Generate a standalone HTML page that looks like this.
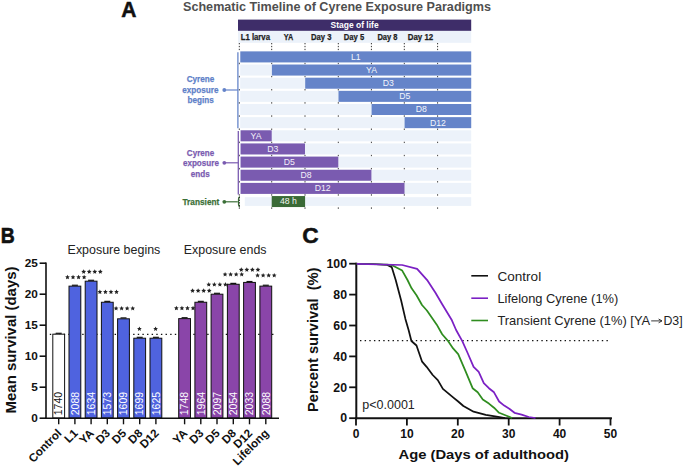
<!DOCTYPE html>
<html><head><meta charset="utf-8"><style>
html,body{margin:0;padding:0;background:#fff;width:685px;height:469px;overflow:hidden}
svg{display:block;font-family:"Liberation Sans", sans-serif}
</style></head><body>
<svg width="685" height="469" viewBox="0 0 685 469">
<rect width="685" height="469" fill="#fff"/>
<text x="121.3" y="16.5" font-size="22.5" font-weight="bold" fill="#111" text-anchor="start" textLength="15.2" lengthAdjust="spacingAndGlyphs" stroke="#111" stroke-width="0.5">A</text>
<text x="183" y="11.0" font-size="13.4" font-weight="bold" fill="#4f4f4f" text-anchor="start" textLength="308" lengthAdjust="spacingAndGlyphs" >Schematic Timeline of Cyrene Exposure Paradigms</text>
<rect x="238" y="19.6" width="233.2" height="11.3" fill="#3e2d69"/>
<text x="354.6" y="28.4" font-size="9.2" font-weight="bold" fill="#ffffff" text-anchor="middle" textLength="48" lengthAdjust="spacingAndGlyphs" >Stage of life</text>
<rect x="238" y="30.9" width="233.2" height="11.9" fill="#ecf2fa"/>
<text x="240.7" y="40.4" font-size="9.0" font-weight="bold" fill="#1e1e1e" text-anchor="start" textLength="29.3" lengthAdjust="spacingAndGlyphs" stroke="#1e1e1e" stroke-width="0.25">L1 larva</text>
<text x="283.8" y="40.4" font-size="9.0" font-weight="bold" fill="#1e1e1e" text-anchor="start" textLength="9.4" lengthAdjust="spacingAndGlyphs" stroke="#1e1e1e" stroke-width="0.25">YA</text>
<text x="311.0" y="40.4" font-size="9.0" font-weight="bold" fill="#1e1e1e" text-anchor="start" textLength="20.4" lengthAdjust="spacingAndGlyphs" stroke="#1e1e1e" stroke-width="0.25">Day 3</text>
<text x="343.8" y="40.4" font-size="9.0" font-weight="bold" fill="#1e1e1e" text-anchor="start" textLength="20.4" lengthAdjust="spacingAndGlyphs" stroke="#1e1e1e" stroke-width="0.25">Day 5</text>
<text x="377.4" y="40.4" font-size="9.0" font-weight="bold" fill="#1e1e1e" text-anchor="start" textLength="20.1" lengthAdjust="spacingAndGlyphs" stroke="#1e1e1e" stroke-width="0.25">Day 8</text>
<text x="407.7" y="40.4" font-size="9.0" font-weight="bold" fill="#1e1e1e" text-anchor="start" textLength="25.5" lengthAdjust="spacingAndGlyphs" stroke="#1e1e1e" stroke-width="0.25">Day 12</text>
<line x1="239.3" y1="43.0" x2="239.3" y2="50.6" stroke="#333" stroke-width="1" stroke-dasharray="1.3 1.6"/>
<rect x="238.80" y="62.70" width="1" height="1.5" fill="#444"/>
<rect x="238.80" y="75.85" width="1" height="1.5" fill="#444"/>
<rect x="238.80" y="89.00" width="1" height="1.5" fill="#444"/>
<rect x="238.80" y="102.15" width="1" height="1.5" fill="#444"/>
<rect x="238.80" y="115.30" width="1" height="1.5" fill="#444"/>
<rect x="238.80" y="128.45" width="1" height="1.5" fill="#444"/>
<rect x="238.80" y="141.60" width="1" height="1.5" fill="#444"/>
<rect x="238.80" y="154.75" width="1" height="1.5" fill="#444"/>
<rect x="238.80" y="167.90" width="1" height="1.5" fill="#444"/>
<rect x="238.80" y="181.05" width="1" height="1.5" fill="#444"/>
<rect x="238.80" y="194.20" width="1" height="1.5" fill="#444"/>
<rect x="238.80" y="207.35" width="1" height="1.5" fill="#444"/>
<line x1="271.7" y1="43.0" x2="271.7" y2="50.6" stroke="#333" stroke-width="1" stroke-dasharray="1.3 1.6"/>
<rect x="271.20" y="62.70" width="1" height="1.5" fill="#444"/>
<rect x="271.20" y="75.85" width="1" height="1.5" fill="#444"/>
<rect x="271.20" y="89.00" width="1" height="1.5" fill="#444"/>
<rect x="271.20" y="102.15" width="1" height="1.5" fill="#444"/>
<rect x="271.20" y="115.30" width="1" height="1.5" fill="#444"/>
<rect x="271.20" y="128.45" width="1" height="1.5" fill="#444"/>
<rect x="271.20" y="141.60" width="1" height="1.5" fill="#444"/>
<rect x="271.20" y="154.75" width="1" height="1.5" fill="#444"/>
<rect x="271.20" y="167.90" width="1" height="1.5" fill="#444"/>
<rect x="271.20" y="181.05" width="1" height="1.5" fill="#444"/>
<rect x="271.20" y="194.20" width="1" height="1.5" fill="#444"/>
<rect x="271.20" y="207.35" width="1" height="1.5" fill="#444"/>
<line x1="305.0" y1="43.0" x2="305.0" y2="50.6" stroke="#333" stroke-width="1" stroke-dasharray="1.3 1.6"/>
<rect x="304.50" y="62.70" width="1" height="1.5" fill="#444"/>
<rect x="304.50" y="75.85" width="1" height="1.5" fill="#444"/>
<rect x="304.50" y="89.00" width="1" height="1.5" fill="#444"/>
<rect x="304.50" y="102.15" width="1" height="1.5" fill="#444"/>
<rect x="304.50" y="115.30" width="1" height="1.5" fill="#444"/>
<rect x="304.50" y="128.45" width="1" height="1.5" fill="#444"/>
<rect x="304.50" y="141.60" width="1" height="1.5" fill="#444"/>
<rect x="304.50" y="154.75" width="1" height="1.5" fill="#444"/>
<rect x="304.50" y="167.90" width="1" height="1.5" fill="#444"/>
<rect x="304.50" y="181.05" width="1" height="1.5" fill="#444"/>
<rect x="304.50" y="194.20" width="1" height="1.5" fill="#444"/>
<rect x="304.50" y="207.35" width="1" height="1.5" fill="#444"/>
<line x1="338.3" y1="43.0" x2="338.3" y2="50.6" stroke="#333" stroke-width="1" stroke-dasharray="1.3 1.6"/>
<rect x="337.80" y="62.70" width="1" height="1.5" fill="#444"/>
<rect x="337.80" y="75.85" width="1" height="1.5" fill="#444"/>
<rect x="337.80" y="89.00" width="1" height="1.5" fill="#444"/>
<rect x="337.80" y="102.15" width="1" height="1.5" fill="#444"/>
<rect x="337.80" y="115.30" width="1" height="1.5" fill="#444"/>
<rect x="337.80" y="128.45" width="1" height="1.5" fill="#444"/>
<rect x="337.80" y="141.60" width="1" height="1.5" fill="#444"/>
<rect x="337.80" y="154.75" width="1" height="1.5" fill="#444"/>
<rect x="337.80" y="167.90" width="1" height="1.5" fill="#444"/>
<rect x="337.80" y="181.05" width="1" height="1.5" fill="#444"/>
<rect x="337.80" y="194.20" width="1" height="1.5" fill="#444"/>
<rect x="337.80" y="207.35" width="1" height="1.5" fill="#444"/>
<line x1="371.4" y1="43.0" x2="371.4" y2="50.6" stroke="#333" stroke-width="1" stroke-dasharray="1.3 1.6"/>
<rect x="370.90" y="62.70" width="1" height="1.5" fill="#444"/>
<rect x="370.90" y="75.85" width="1" height="1.5" fill="#444"/>
<rect x="370.90" y="89.00" width="1" height="1.5" fill="#444"/>
<rect x="370.90" y="102.15" width="1" height="1.5" fill="#444"/>
<rect x="370.90" y="115.30" width="1" height="1.5" fill="#444"/>
<rect x="370.90" y="128.45" width="1" height="1.5" fill="#444"/>
<rect x="370.90" y="141.60" width="1" height="1.5" fill="#444"/>
<rect x="370.90" y="154.75" width="1" height="1.5" fill="#444"/>
<rect x="370.90" y="167.90" width="1" height="1.5" fill="#444"/>
<rect x="370.90" y="181.05" width="1" height="1.5" fill="#444"/>
<rect x="370.90" y="194.20" width="1" height="1.5" fill="#444"/>
<rect x="370.90" y="207.35" width="1" height="1.5" fill="#444"/>
<line x1="404.3" y1="43.0" x2="404.3" y2="50.6" stroke="#333" stroke-width="1" stroke-dasharray="1.3 1.6"/>
<rect x="403.80" y="62.70" width="1" height="1.5" fill="#444"/>
<rect x="403.80" y="75.85" width="1" height="1.5" fill="#444"/>
<rect x="403.80" y="89.00" width="1" height="1.5" fill="#444"/>
<rect x="403.80" y="102.15" width="1" height="1.5" fill="#444"/>
<rect x="403.80" y="115.30" width="1" height="1.5" fill="#444"/>
<rect x="403.80" y="128.45" width="1" height="1.5" fill="#444"/>
<rect x="403.80" y="141.60" width="1" height="1.5" fill="#444"/>
<rect x="403.80" y="154.75" width="1" height="1.5" fill="#444"/>
<rect x="403.80" y="167.90" width="1" height="1.5" fill="#444"/>
<rect x="403.80" y="181.05" width="1" height="1.5" fill="#444"/>
<rect x="403.80" y="194.20" width="1" height="1.5" fill="#444"/>
<rect x="403.80" y="207.35" width="1" height="1.5" fill="#444"/>
<line x1="437.6" y1="43.0" x2="437.6" y2="50.6" stroke="#333" stroke-width="1" stroke-dasharray="1.3 1.6"/>
<rect x="437.10" y="62.70" width="1" height="1.5" fill="#444"/>
<rect x="437.10" y="75.85" width="1" height="1.5" fill="#444"/>
<rect x="437.10" y="89.00" width="1" height="1.5" fill="#444"/>
<rect x="437.10" y="102.15" width="1" height="1.5" fill="#444"/>
<rect x="437.10" y="115.30" width="1" height="1.5" fill="#444"/>
<rect x="437.10" y="128.45" width="1" height="1.5" fill="#444"/>
<rect x="437.10" y="141.60" width="1" height="1.5" fill="#444"/>
<rect x="437.10" y="154.75" width="1" height="1.5" fill="#444"/>
<rect x="437.10" y="167.90" width="1" height="1.5" fill="#444"/>
<rect x="437.10" y="181.05" width="1" height="1.5" fill="#444"/>
<rect x="437.10" y="194.20" width="1" height="1.5" fill="#444"/>
<rect x="437.10" y="207.35" width="1" height="1.5" fill="#444"/>
<rect x="240.2" y="51.40" width="231.00" height="11.0" fill="#ecf2fa"/>
<rect x="240.2" y="64.55" width="231.00" height="11.0" fill="#ecf2fa"/>
<rect x="240.2" y="77.70" width="231.00" height="11.0" fill="#ecf2fa"/>
<rect x="240.2" y="90.85" width="231.00" height="11.0" fill="#ecf2fa"/>
<rect x="240.2" y="104.00" width="231.00" height="11.0" fill="#ecf2fa"/>
<rect x="240.2" y="117.15" width="231.00" height="11.0" fill="#ecf2fa"/>
<rect x="240.2" y="130.30" width="231.00" height="11.0" fill="#ecf2fa"/>
<rect x="240.2" y="143.45" width="231.00" height="11.0" fill="#ecf2fa"/>
<rect x="240.2" y="156.60" width="231.00" height="11.0" fill="#ecf2fa"/>
<rect x="240.2" y="169.75" width="231.00" height="11.0" fill="#ecf2fa"/>
<rect x="240.2" y="182.90" width="231.00" height="11.0" fill="#ecf2fa"/>
<rect x="244.8" y="197.2" width="226.40" height="8.7" fill="#ecf2fa"/>
<rect x="240.3" y="51.40" width="230.90" height="11.0" fill="#6584c9"/>
<text x="355.8" y="59.8" font-size="8.7" font-weight="normal" fill="#f4f6fc" text-anchor="middle" >L1</text>
<rect x="271.9" y="64.55" width="199.30" height="11.0" fill="#6584c9"/>
<text x="371.5" y="72.95" font-size="8.7" font-weight="normal" fill="#f4f6fc" text-anchor="middle" >YA</text>
<rect x="305.2" y="77.70" width="166.00" height="11.0" fill="#6584c9"/>
<text x="388.2" y="86.1" font-size="8.7" font-weight="normal" fill="#f4f6fc" text-anchor="middle" >D3</text>
<rect x="338.5" y="90.85" width="132.70" height="11.0" fill="#6584c9"/>
<text x="404.9" y="99.25" font-size="8.7" font-weight="normal" fill="#f4f6fc" text-anchor="middle" >D5</text>
<rect x="371.6" y="104.00" width="99.60" height="11.0" fill="#6584c9"/>
<text x="421.4" y="112.4" font-size="8.7" font-weight="normal" fill="#f4f6fc" text-anchor="middle" >D8</text>
<rect x="404.6" y="117.15" width="66.60" height="11.0" fill="#6584c9"/>
<text x="437.9" y="125.55" font-size="8.7" font-weight="normal" fill="#f4f6fc" text-anchor="middle" >D12</text>
<rect x="240.6" y="130.30" width="31.10" height="11.0" fill="#7a5bb0"/>
<text x="256.1" y="138.7" font-size="8.7" font-weight="normal" fill="#f4f0fa" text-anchor="middle" >YA</text>
<rect x="240.6" y="143.45" width="64.40" height="11.0" fill="#7a5bb0"/>
<text x="272.8" y="151.85" font-size="8.7" font-weight="normal" fill="#f4f0fa" text-anchor="middle" >D3</text>
<rect x="240.6" y="156.60" width="97.70" height="11.0" fill="#7a5bb0"/>
<text x="289.4" y="165.0" font-size="8.7" font-weight="normal" fill="#f4f0fa" text-anchor="middle" >D5</text>
<rect x="240.6" y="169.75" width="130.80" height="11.0" fill="#7a5bb0"/>
<text x="306.0" y="178.15" font-size="8.7" font-weight="normal" fill="#f4f0fa" text-anchor="middle" >D8</text>
<rect x="240.6" y="182.90" width="163.90" height="11.0" fill="#7a5bb0"/>
<text x="322.6" y="191.3" font-size="8.7" font-weight="normal" fill="#f4f0fa" text-anchor="middle" >D12</text>
<rect x="271.7" y="196.05" width="33.4" height="11.0" fill="#3a6a36"/>
<text x="288.4" y="204.45" font-size="8.7" font-weight="normal" fill="#f2f6f2" text-anchor="middle" >48 h</text>
<line x1="237.9" y1="52.3" x2="237.9" y2="128.2" stroke="#6584c9" stroke-width="1.3"/>
<line x1="224.3" y1="90" x2="237.9" y2="90" stroke="#6584c9" stroke-width="1.2"/>
<circle cx="224.3" cy="90" r="1.9" fill="#6584c9"/>
<text x="200.5" y="82.4" font-size="9.6" font-weight="bold" fill="#5e7fc8" text-anchor="middle" textLength="27.7" lengthAdjust="spacingAndGlyphs" stroke="#5e7fc8" stroke-width="0.25">Cyrene</text>
<text x="200.4" y="92.7" font-size="9.6" font-weight="bold" fill="#5e7fc8" text-anchor="middle" textLength="36.2" lengthAdjust="spacingAndGlyphs" stroke="#5e7fc8" stroke-width="0.25">exposure</text>
<text x="200.6" y="102.6" font-size="9.6" font-weight="bold" fill="#5e7fc8" text-anchor="middle" textLength="26.3" lengthAdjust="spacingAndGlyphs" stroke="#5e7fc8" stroke-width="0.25">begins</text>
<line x1="238.3" y1="131" x2="238.3" y2="194.5" stroke="#7a5bb0" stroke-width="1.3"/>
<line x1="224.3" y1="162.8" x2="238.3" y2="162.8" stroke="#7a5bb0" stroke-width="1.2"/>
<circle cx="224.3" cy="162.8" r="1.9" fill="#7a5bb0"/>
<text x="200.5" y="156.2" font-size="9.6" font-weight="bold" fill="#7a5bb0" text-anchor="middle" textLength="27.3" lengthAdjust="spacingAndGlyphs" stroke="#7a5bb0" stroke-width="0.25">Cyrene</text>
<text x="200.9" y="166.0" font-size="9.6" font-weight="bold" fill="#7a5bb0" text-anchor="middle" textLength="36.0" lengthAdjust="spacingAndGlyphs" stroke="#7a5bb0" stroke-width="0.25">exposure</text>
<text x="200.3" y="176.8" font-size="9.6" font-weight="bold" fill="#7a5bb0" text-anchor="middle" textLength="19.0" lengthAdjust="spacingAndGlyphs" stroke="#7a5bb0" stroke-width="0.25">ends</text>
<text x="182.5" y="205.4" font-size="9.8" font-weight="bold" fill="#3b6f37" text-anchor="start" textLength="36.8" lengthAdjust="spacingAndGlyphs" stroke="#3b6f37" stroke-width="0.25">Transient</text>
<line x1="224.3" y1="201.8" x2="237.8" y2="201.8" stroke="#3b6f37" stroke-width="1.2"/>
<circle cx="224.3" cy="201.8" r="1.9" fill="#3b6f37"/>
<path d="M239.8 196.4 Q238.5 197.2 238.5 199 L238.5 204.4 Q238.5 206.2 239.8 206.9" fill="none" stroke="#3b6f37" stroke-width="1.2"/>
<rect x="238.9" y="197.0" width="1" height="1.3" fill="#222"/>
<rect x="238.9" y="199.6" width="1" height="1.3" fill="#222"/>
<rect x="238.9" y="202.2" width="1" height="1.3" fill="#222"/>
<rect x="238.9" y="204.8" width="1" height="1.3" fill="#222"/>
<text x="0.8" y="242.9" font-size="22.2" font-weight="bold" fill="#111" text-anchor="start" textLength="14.0" lengthAdjust="spacingAndGlyphs" stroke="#111" stroke-width="0.6">B</text>
<text x="67.6" y="253.6" font-size="12.4" font-weight="normal" fill="#222" text-anchor="start" textLength="92.7" lengthAdjust="spacingAndGlyphs" >Exposure begins</text>
<text x="183.8" y="253.9" font-size="12.4" font-weight="normal" fill="#222" text-anchor="start" textLength="82.7" lengthAdjust="spacingAndGlyphs" >Exposure ends</text>
<text transform="translate(15.7,413.4) rotate(-90)" font-size="14.6" font-weight="bold" fill="#111" textLength="146.9" lengthAdjust="spacingAndGlyphs">Mean survival (days)</text>
<line x1="39.6" y1="418.20" x2="46.0" y2="418.20" stroke="#111" stroke-width="1.6"/>
<text x="37.9" y="422.3" font-size="11.8" font-weight="bold" fill="#111" text-anchor="end" >0</text>
<line x1="39.6" y1="387.20" x2="46.0" y2="387.20" stroke="#111" stroke-width="1.6"/>
<text x="37.9" y="391.3" font-size="11.8" font-weight="bold" fill="#111" text-anchor="end" >5</text>
<line x1="39.6" y1="356.20" x2="46.0" y2="356.20" stroke="#111" stroke-width="1.6"/>
<text x="37.9" y="360.3" font-size="11.8" font-weight="bold" fill="#111" text-anchor="end" >10</text>
<line x1="39.6" y1="325.20" x2="46.0" y2="325.20" stroke="#111" stroke-width="1.6"/>
<text x="37.9" y="329.3" font-size="11.8" font-weight="bold" fill="#111" text-anchor="end" >15</text>
<line x1="39.6" y1="294.20" x2="46.0" y2="294.20" stroke="#111" stroke-width="1.6"/>
<text x="37.9" y="298.3" font-size="11.8" font-weight="bold" fill="#111" text-anchor="end" >20</text>
<line x1="39.6" y1="263.20" x2="46.0" y2="263.20" stroke="#111" stroke-width="1.6"/>
<text x="37.9" y="267.3" font-size="11.8" font-weight="bold" fill="#111" text-anchor="end" >25</text>
<line x1="46.0" y1="262.40" x2="46.0" y2="418.9" stroke="#111" stroke-width="1.6"/>
<line x1="49.8" y1="334.4" x2="276" y2="334.4" stroke="#111" stroke-width="1.3" stroke-dasharray="1.4 3.23"/>
<rect x="52.8" y="334.19" width="11.8" height="83.81" fill="#ffffff" stroke="#111" stroke-width="1"/>
<line x1="55.70" y1="333.29" x2="61.70" y2="333.29" stroke="#111" stroke-width="1.2"/>
<text transform="translate(62.40,415.2) rotate(-90)" font-size="10.3" fill="#111" textLength="23.3" lengthAdjust="spacingAndGlyphs">1740</text>
<line x1="58.70" y1="418" x2="58.70" y2="424.3" stroke="#111" stroke-width="1.4"/>
<text transform="translate(62.30,434.0) rotate(-45)" font-size="11.6" font-weight="bold" fill="#111" text-anchor="end">Control</text>
<rect x="69.0" y="286.14" width="11.8" height="131.86" fill="#4f63df" stroke="#111" stroke-width="1"/>
<line x1="71.90" y1="285.24" x2="77.90" y2="285.24" stroke="#111" stroke-width="1.2"/>
<text transform="translate(78.60,415.2) rotate(-90)" font-size="10.3" fill="#ffffff" textLength="23.3" lengthAdjust="spacingAndGlyphs">2088</text>
<line x1="74.90" y1="418" x2="74.90" y2="424.3" stroke="#111" stroke-width="1.4"/>
<text transform="translate(78.50,434.0) rotate(-45)" font-size="11.6" font-weight="bold" fill="#111" text-anchor="end">L1</text>
<polygon points="67.48,274.70 68.17,276.25 69.85,276.43 68.59,277.56 68.94,279.22 67.48,278.38 66.01,279.22 66.36,277.56 65.10,276.43 66.78,276.25" fill="#222"/>
<polygon points="73.03,274.70 73.72,276.25 75.40,276.43 74.14,277.56 74.49,279.22 73.03,278.38 71.56,279.22 71.91,277.56 70.65,276.43 72.33,276.25" fill="#222"/>
<polygon points="78.58,274.70 79.27,276.25 80.95,276.43 79.69,277.56 80.04,279.22 78.58,278.38 77.11,279.22 77.46,277.56 76.20,276.43 77.88,276.25" fill="#222"/>
<polygon points="84.12,274.70 84.82,276.25 86.50,276.43 85.24,277.56 85.59,279.22 84.12,278.38 82.66,279.22 83.01,277.56 81.75,276.43 83.43,276.25" fill="#222"/>
<rect x="85.2" y="281.18" width="11.8" height="136.82" fill="#4f63df" stroke="#111" stroke-width="1"/>
<line x1="88.10" y1="280.28" x2="94.10" y2="280.28" stroke="#111" stroke-width="1.2"/>
<text transform="translate(94.80,415.2) rotate(-90)" font-size="10.3" fill="#ffffff" textLength="23.3" lengthAdjust="spacingAndGlyphs">1634</text>
<line x1="91.10" y1="418" x2="91.10" y2="424.3" stroke="#111" stroke-width="1.4"/>
<text transform="translate(94.70,434.0) rotate(-45)" font-size="11.6" font-weight="bold" fill="#111" text-anchor="end">YA</text>
<polygon points="83.68,269.30 84.37,270.85 86.05,271.03 84.79,272.16 85.14,273.82 83.68,272.98 82.21,273.82 82.56,272.16 81.30,271.03 82.98,270.85" fill="#222"/>
<polygon points="89.23,269.30 89.92,270.85 91.60,271.03 90.34,272.16 90.69,273.82 89.23,272.98 87.76,273.82 88.11,272.16 86.85,271.03 88.53,270.85" fill="#222"/>
<polygon points="94.78,269.30 95.47,270.85 97.15,271.03 95.89,272.16 96.24,273.82 94.78,272.98 93.31,273.82 93.66,272.16 92.40,271.03 94.08,270.85" fill="#222"/>
<polygon points="100.33,269.30 101.02,270.85 102.70,271.03 101.44,272.16 101.79,273.82 100.33,272.98 98.86,273.82 99.21,272.16 97.95,271.03 99.63,270.85" fill="#222"/>
<rect x="101.4" y="302.26" width="11.8" height="115.74" fill="#4f63df" stroke="#111" stroke-width="1"/>
<line x1="104.30" y1="301.36" x2="110.30" y2="301.36" stroke="#111" stroke-width="1.2"/>
<text transform="translate(111.00,415.2) rotate(-90)" font-size="10.3" fill="#ffffff" textLength="23.3" lengthAdjust="spacingAndGlyphs">1573</text>
<line x1="107.30" y1="418" x2="107.30" y2="424.3" stroke="#111" stroke-width="1.4"/>
<text transform="translate(110.90,434.0) rotate(-45)" font-size="11.6" font-weight="bold" fill="#111" text-anchor="end">D3</text>
<polygon points="99.88,289.50 100.57,291.05 102.25,291.23 100.99,292.36 101.34,294.02 99.88,293.18 98.41,294.02 98.76,292.36 97.50,291.23 99.18,291.05" fill="#222"/>
<polygon points="105.43,289.50 106.12,291.05 107.80,291.23 106.54,292.36 106.89,294.02 105.43,293.18 103.96,294.02 104.31,292.36 103.05,291.23 104.73,291.05" fill="#222"/>
<polygon points="110.98,289.50 111.67,291.05 113.35,291.23 112.09,292.36 112.44,294.02 110.98,293.18 109.51,294.02 109.86,292.36 108.60,291.23 110.28,291.05" fill="#222"/>
<polygon points="116.53,289.50 117.22,291.05 118.90,291.23 117.64,292.36 117.99,294.02 116.53,293.18 115.06,294.02 115.41,292.36 114.15,291.23 115.83,291.05" fill="#222"/>
<rect x="117.6" y="318.81" width="11.8" height="99.19" fill="#4f63df" stroke="#111" stroke-width="1"/>
<line x1="120.50" y1="317.91" x2="126.50" y2="317.91" stroke="#111" stroke-width="1.2"/>
<text transform="translate(127.20,415.2) rotate(-90)" font-size="10.3" fill="#ffffff" textLength="23.3" lengthAdjust="spacingAndGlyphs">1609</text>
<line x1="123.50" y1="418" x2="123.50" y2="424.3" stroke="#111" stroke-width="1.4"/>
<text transform="translate(127.10,434.0) rotate(-45)" font-size="11.6" font-weight="bold" fill="#111" text-anchor="end">D5</text>
<polygon points="116.08,305.90 116.77,307.45 118.45,307.63 117.19,308.76 117.54,310.42 116.08,309.57 114.61,310.42 114.96,308.76 113.70,307.63 115.38,307.45" fill="#222"/>
<polygon points="121.62,305.90 122.32,307.45 124.00,307.63 122.74,308.76 123.09,310.42 121.62,309.57 120.16,310.42 120.51,308.76 119.25,307.63 120.93,307.45" fill="#222"/>
<polygon points="127.17,305.90 127.87,307.45 129.55,307.63 128.29,308.76 128.64,310.42 127.17,309.57 125.71,310.42 126.06,308.76 124.80,307.63 126.48,307.45" fill="#222"/>
<polygon points="132.72,305.90 133.42,307.45 135.10,307.63 133.84,308.76 134.19,310.42 132.72,309.57 131.26,310.42 131.61,308.76 130.35,307.63 132.03,307.45" fill="#222"/>
<rect x="133.8" y="338.22" width="11.8" height="79.78" fill="#4f63df" stroke="#111" stroke-width="1"/>
<line x1="136.70" y1="337.32" x2="142.70" y2="337.32" stroke="#111" stroke-width="1.2"/>
<text transform="translate(143.40,415.2) rotate(-90)" font-size="10.3" fill="#ffffff" textLength="23.3" lengthAdjust="spacingAndGlyphs">1699</text>
<line x1="139.70" y1="418" x2="139.70" y2="424.3" stroke="#111" stroke-width="1.4"/>
<text transform="translate(143.30,434.0) rotate(-45)" font-size="11.6" font-weight="bold" fill="#111" text-anchor="end">D8</text>
<polygon points="139.40,326.40 140.09,327.95 141.78,328.13 140.52,329.26 140.87,330.92 139.40,330.07 137.93,330.92 138.28,329.26 137.02,328.13 138.71,327.95" fill="#222"/>
<rect x="150.0" y="338.22" width="11.8" height="79.78" fill="#4f63df" stroke="#111" stroke-width="1"/>
<line x1="152.90" y1="337.32" x2="158.90" y2="337.32" stroke="#111" stroke-width="1.2"/>
<text transform="translate(159.60,415.2) rotate(-90)" font-size="10.3" fill="#ffffff" textLength="23.3" lengthAdjust="spacingAndGlyphs">1625</text>
<line x1="155.90" y1="418" x2="155.90" y2="424.3" stroke="#111" stroke-width="1.4"/>
<text transform="translate(159.50,434.0) rotate(-45)" font-size="11.6" font-weight="bold" fill="#111" text-anchor="end">D12</text>
<polygon points="155.60,326.40 156.29,327.95 157.98,328.13 156.72,329.26 157.07,330.92 155.60,330.07 154.13,330.92 154.48,329.26 153.22,328.13 154.91,327.95" fill="#222"/>
<rect x="178.7" y="318.63" width="11.8" height="99.37" fill="#8a45a9" stroke="#111" stroke-width="1"/>
<line x1="181.60" y1="317.73" x2="187.60" y2="317.73" stroke="#111" stroke-width="1.2"/>
<text transform="translate(188.30,415.2) rotate(-90)" font-size="10.3" fill="#ffffff" textLength="23.3" lengthAdjust="spacingAndGlyphs">1748</text>
<line x1="184.60" y1="418" x2="184.60" y2="424.3" stroke="#111" stroke-width="1.4"/>
<text transform="translate(188.20,434.0) rotate(-45)" font-size="11.6" font-weight="bold" fill="#111" text-anchor="end">YA</text>
<polygon points="176.38,305.70 177.07,307.25 178.75,307.43 177.49,308.56 177.84,310.22 176.38,309.38 174.91,310.22 175.26,308.56 174.00,307.43 175.68,307.25" fill="#222"/>
<polygon points="181.93,305.70 182.62,307.25 184.30,307.43 183.04,308.56 183.39,310.22 181.93,309.38 180.46,310.22 180.81,308.56 179.55,307.43 181.23,307.25" fill="#222"/>
<polygon points="187.47,305.70 188.17,307.25 189.85,307.43 188.59,308.56 188.94,310.22 187.47,309.38 186.01,310.22 186.36,308.56 185.10,307.43 186.78,307.25" fill="#222"/>
<polygon points="193.03,305.70 193.72,307.25 195.40,307.43 194.14,308.56 194.49,310.22 193.03,309.38 191.56,310.22 191.91,308.56 190.65,307.43 192.33,307.25" fill="#222"/>
<rect x="194.9" y="302.26" width="11.8" height="115.74" fill="#8a45a9" stroke="#111" stroke-width="1"/>
<line x1="197.80" y1="301.36" x2="203.80" y2="301.36" stroke="#111" stroke-width="1.2"/>
<text transform="translate(204.50,415.2) rotate(-90)" font-size="10.3" fill="#ffffff" textLength="23.3" lengthAdjust="spacingAndGlyphs">1964</text>
<line x1="200.80" y1="418" x2="200.80" y2="424.3" stroke="#111" stroke-width="1.4"/>
<text transform="translate(204.40,434.0) rotate(-45)" font-size="11.6" font-weight="bold" fill="#111" text-anchor="end">D3</text>
<polygon points="192.58,288.30 193.27,289.85 194.95,290.03 193.69,291.16 194.04,292.82 192.58,291.98 191.11,292.82 191.46,291.16 190.20,290.03 191.88,289.85" fill="#222"/>
<polygon points="198.13,288.30 198.82,289.85 200.50,290.03 199.24,291.16 199.59,292.82 198.13,291.98 196.66,292.82 197.01,291.16 195.75,290.03 197.43,289.85" fill="#222"/>
<polygon points="203.68,288.30 204.37,289.85 206.05,290.03 204.79,291.16 205.14,292.82 203.68,291.98 202.21,292.82 202.56,291.16 201.30,290.03 202.98,289.85" fill="#222"/>
<polygon points="209.23,288.30 209.92,289.85 211.60,290.03 210.34,291.16 210.69,292.82 209.23,291.98 207.76,292.82 208.11,291.16 206.85,290.03 208.53,289.85" fill="#222"/>
<rect x="211.1" y="294.20" width="11.8" height="123.80" fill="#8a45a9" stroke="#111" stroke-width="1"/>
<line x1="214.00" y1="293.30" x2="220.00" y2="293.30" stroke="#111" stroke-width="1.2"/>
<text transform="translate(220.70,415.2) rotate(-90)" font-size="10.3" fill="#ffffff" textLength="23.3" lengthAdjust="spacingAndGlyphs">2097</text>
<line x1="217.00" y1="418" x2="217.00" y2="424.3" stroke="#111" stroke-width="1.4"/>
<text transform="translate(220.60,434.0) rotate(-45)" font-size="11.6" font-weight="bold" fill="#111" text-anchor="end">D5</text>
<polygon points="208.78,282.10 209.47,283.65 211.15,283.83 209.89,284.96 210.24,286.62 208.78,285.78 207.31,286.62 207.66,284.96 206.40,283.83 208.08,283.65" fill="#222"/>
<polygon points="214.33,282.10 215.02,283.65 216.70,283.83 215.44,284.96 215.79,286.62 214.33,285.78 212.86,286.62 213.21,284.96 211.95,283.83 213.63,283.65" fill="#222"/>
<polygon points="219.88,282.10 220.57,283.65 222.25,283.83 220.99,284.96 221.34,286.62 219.88,285.78 218.41,286.62 218.76,284.96 217.50,283.83 219.18,283.65" fill="#222"/>
<polygon points="225.43,282.10 226.12,283.65 227.80,283.83 226.54,284.96 226.89,286.62 225.43,285.78 223.96,286.62 224.31,284.96 223.05,283.83 224.73,283.65" fill="#222"/>
<rect x="227.4" y="284.28" width="11.8" height="133.72" fill="#8a45a9" stroke="#111" stroke-width="1"/>
<line x1="230.30" y1="283.38" x2="236.30" y2="283.38" stroke="#111" stroke-width="1.2"/>
<text transform="translate(237.00,415.2) rotate(-90)" font-size="10.3" fill="#ffffff" textLength="23.3" lengthAdjust="spacingAndGlyphs">2054</text>
<line x1="233.30" y1="418" x2="233.30" y2="424.3" stroke="#111" stroke-width="1.4"/>
<text transform="translate(236.90,434.0) rotate(-45)" font-size="11.6" font-weight="bold" fill="#111" text-anchor="end">D8</text>
<polygon points="225.08,271.90 225.77,273.45 227.45,273.63 226.19,274.76 226.54,276.42 225.08,275.57 223.61,276.42 223.96,274.76 222.70,273.63 224.38,273.45" fill="#222"/>
<polygon points="230.63,271.90 231.32,273.45 233.00,273.63 231.74,274.76 232.09,276.42 230.63,275.57 229.16,276.42 229.51,274.76 228.25,273.63 229.93,273.45" fill="#222"/>
<polygon points="236.18,271.90 236.87,273.45 238.55,273.63 237.29,274.76 237.64,276.42 236.18,275.57 234.71,276.42 235.06,274.76 233.80,273.63 235.48,273.45" fill="#222"/>
<polygon points="241.73,271.90 242.42,273.45 244.10,273.63 242.84,274.76 243.19,276.42 241.73,275.57 240.26,276.42 240.61,274.76 239.35,273.63 241.03,273.45" fill="#222"/>
<rect x="243.6" y="282.42" width="11.8" height="135.58" fill="#8a45a9" stroke="#111" stroke-width="1"/>
<line x1="246.50" y1="281.52" x2="252.50" y2="281.52" stroke="#111" stroke-width="1.2"/>
<text transform="translate(253.20,415.2) rotate(-90)" font-size="10.3" fill="#ffffff" textLength="23.3" lengthAdjust="spacingAndGlyphs">2033</text>
<line x1="249.50" y1="418" x2="249.50" y2="424.3" stroke="#111" stroke-width="1.4"/>
<text transform="translate(253.10,434.0) rotate(-45)" font-size="11.6" font-weight="bold" fill="#111" text-anchor="end">D12</text>
<polygon points="241.28,267.30 241.97,268.85 243.65,269.03 242.39,270.16 242.74,271.82 241.28,270.98 239.81,271.82 240.16,270.16 238.90,269.03 240.58,268.85" fill="#222"/>
<polygon points="246.83,267.30 247.52,268.85 249.20,269.03 247.94,270.16 248.29,271.82 246.83,270.98 245.36,271.82 245.71,270.16 244.45,269.03 246.13,268.85" fill="#222"/>
<polygon points="252.38,267.30 253.07,268.85 254.75,269.03 253.49,270.16 253.84,271.82 252.38,270.98 250.91,271.82 251.26,270.16 250.00,269.03 251.68,268.85" fill="#222"/>
<polygon points="257.93,267.30 258.62,268.85 260.30,269.03 259.04,270.16 259.39,271.82 257.93,270.98 256.46,271.82 256.81,270.16 255.55,269.03 257.23,268.85" fill="#222"/>
<rect x="259.9" y="286.14" width="11.8" height="131.86" fill="#8a45a9" stroke="#111" stroke-width="1"/>
<line x1="262.80" y1="285.24" x2="268.80" y2="285.24" stroke="#111" stroke-width="1.2"/>
<text transform="translate(269.50,415.2) rotate(-90)" font-size="10.3" fill="#ffffff" textLength="23.3" lengthAdjust="spacingAndGlyphs">2088</text>
<line x1="265.80" y1="418" x2="265.80" y2="424.3" stroke="#111" stroke-width="1.4"/>
<text transform="translate(269.40,434.0) rotate(-45)" font-size="11.6" font-weight="bold" fill="#111" text-anchor="end">Lifelong</text>
<polygon points="257.57,272.90 258.27,274.45 259.95,274.63 258.69,275.76 259.04,277.42 257.57,276.57 256.11,277.42 256.46,275.76 255.20,274.63 256.88,274.45" fill="#222"/>
<polygon points="263.12,272.90 263.82,274.45 265.50,274.63 264.24,275.76 264.59,277.42 263.12,276.57 261.66,277.42 262.01,275.76 260.75,274.63 262.43,274.45" fill="#222"/>
<polygon points="268.68,272.90 269.37,274.45 271.05,274.63 269.79,275.76 270.14,277.42 268.68,276.57 267.21,277.42 267.56,275.76 266.30,274.63 267.98,274.45" fill="#222"/>
<polygon points="274.22,272.90 274.92,274.45 276.60,274.63 275.34,275.76 275.69,277.42 274.22,276.57 272.76,277.42 273.11,275.76 271.85,274.63 273.53,274.45" fill="#222"/>
<line x1="45.2" y1="418.2" x2="279" y2="418.2" stroke="#111" stroke-width="1.6"/>
<text x="302.3" y="243.0" font-size="22.5" font-weight="bold" fill="#111" text-anchor="start" textLength="16.4" lengthAdjust="spacingAndGlyphs" stroke="#111" stroke-width="0.5">C</text>
<text transform="translate(317.6,412.1) rotate(-90)" font-size="14.6" font-weight="bold" fill="#111" textLength="144.6" lengthAdjust="spacingAndGlyphs" xml:space="preserve">Percent survival  (%)</text>
<line x1="349.2" y1="418.20" x2="356.5" y2="418.20" stroke="#111" stroke-width="1.8"/>
<text x="347.0" y="422.4" font-size="12.3" font-weight="bold" fill="#111" text-anchor="end" >0</text>
<line x1="349.2" y1="387.30" x2="356.5" y2="387.30" stroke="#111" stroke-width="1.8"/>
<text x="347.0" y="391.5" font-size="12.3" font-weight="bold" fill="#111" text-anchor="end" >20</text>
<line x1="349.2" y1="356.40" x2="356.5" y2="356.40" stroke="#111" stroke-width="1.8"/>
<text x="347.0" y="360.6" font-size="12.3" font-weight="bold" fill="#111" text-anchor="end" >40</text>
<line x1="349.2" y1="325.50" x2="356.5" y2="325.50" stroke="#111" stroke-width="1.8"/>
<text x="347.0" y="329.7" font-size="12.3" font-weight="bold" fill="#111" text-anchor="end" >60</text>
<line x1="349.2" y1="294.60" x2="356.5" y2="294.60" stroke="#111" stroke-width="1.8"/>
<text x="347.0" y="298.8" font-size="12.3" font-weight="bold" fill="#111" text-anchor="end" >80</text>
<line x1="349.2" y1="263.70" x2="356.5" y2="263.70" stroke="#111" stroke-width="1.8"/>
<text x="347.0" y="267.9" font-size="12.3" font-weight="bold" fill="#111" text-anchor="end" >100</text>
<line x1="356.00" y1="418" x2="356.00" y2="425.5" stroke="#111" stroke-width="1.8"/>
<text x="356.0" y="438.4" font-size="12.0" font-weight="bold" fill="#111" text-anchor="middle" >0</text>
<line x1="406.90" y1="418" x2="406.90" y2="425.5" stroke="#111" stroke-width="1.8"/>
<text x="406.9" y="438.4" font-size="12.0" font-weight="bold" fill="#111" text-anchor="middle" >10</text>
<line x1="457.80" y1="418" x2="457.80" y2="425.5" stroke="#111" stroke-width="1.8"/>
<text x="457.8" y="438.4" font-size="12.0" font-weight="bold" fill="#111" text-anchor="middle" >20</text>
<line x1="508.70" y1="418" x2="508.70" y2="425.5" stroke="#111" stroke-width="1.8"/>
<text x="508.7" y="438.4" font-size="12.0" font-weight="bold" fill="#111" text-anchor="middle" >30</text>
<line x1="559.60" y1="418" x2="559.60" y2="425.5" stroke="#111" stroke-width="1.8"/>
<text x="559.6" y="438.4" font-size="12.0" font-weight="bold" fill="#111" text-anchor="middle" >40</text>
<line x1="610.50" y1="418" x2="610.50" y2="425.5" stroke="#111" stroke-width="1.8"/>
<text x="610.5" y="438.4" font-size="12.0" font-weight="bold" fill="#111" text-anchor="middle" >50</text>
<line x1="356.3" y1="262.70" x2="356.3" y2="419.2" stroke="#111" stroke-width="2.0"/>
<line x1="355.3" y1="418.2" x2="611.9" y2="418.2" stroke="#111" stroke-width="2.0"/>
<text x="398.5" y="458.8" font-size="13.2" font-weight="bold" fill="#111" text-anchor="start" textLength="170.5" lengthAdjust="spacingAndGlyphs" >Age (Days of adulthood)</text>
<line x1="360.0" y1="340.7" x2="608.5" y2="340.7" stroke="#111" stroke-width="1.3" stroke-dasharray="1.4 3.25"/>
<text x="362.3" y="409.4" font-size="12" font-weight="normal" fill="#222" text-anchor="start" textLength="52.5" lengthAdjust="spacingAndGlyphs" >p&lt;0.0001</text>
<polyline points="356.7,263.8 372.5,264 387.3,265 391.7,267.1 395.7,280 401.2,300.8 405.4,318.9 408.6,330 411.4,341.0 416.5,345.5 422.1,361.7 426.6,366.8 432.7,375 437.8,380.1 442.9,388.9 453.1,397.4 458.2,401.5 463.4,406 473.6,411.7 485.8,414.8 498.1,416.9 505,418" fill="none" stroke="#111" stroke-width="1.75" stroke-linejoin="round"/>
<polyline points="356.7,263.8 387.3,264.5 392.6,265.5 402.2,270.6 407.5,280 411.6,288.3 416.5,295.3 422,305 426.9,310.5 436.6,324.4 442.2,334.2 447.7,340.6 453.1,348.4 458.2,354.1 465.4,370.9 472.6,388.2 477.7,392.3 482.8,399.5 488.9,403.6 494,407.7 499.1,412.8 507.3,416.0 512.0,418" fill="none" stroke="#2f8d1f" stroke-width="1.75" stroke-linejoin="round"/>
<polyline points="356.7,263.8 402.2,265 417.1,268.8 427.6,280.7 435.3,292.5 442.2,304.3 451.9,320.3 456.1,330 462.3,341.2 467.4,352.5 473.6,366.8 478.7,371.9 483.8,383.1 488.9,388.2 494,392.3 499.1,401.5 504.2,405.6 509.3,408.7 514.5,412.8 521.6,414.6 528.8,417.0 535.5,418" fill="none" stroke="#7b20c4" stroke-width="1.75" stroke-linejoin="round"/>
<line x1="471.3" y1="275.8" x2="488" y2="275.8" stroke="#111" stroke-width="1.6"/>
<line x1="471.3" y1="298.2" x2="488" y2="298.2" stroke="#7b20c4" stroke-width="1.6"/>
<line x1="471.3" y1="320.5" x2="488" y2="320.5" stroke="#2f8d1f" stroke-width="1.6"/>
<text x="497.4" y="281.3" font-size="12.6" font-weight="normal" fill="#222" text-anchor="start" textLength="43.8" lengthAdjust="spacingAndGlyphs" >Control</text>
<text x="497.4" y="302.9" font-size="12.6" font-weight="normal" fill="#222" text-anchor="start" textLength="120.9" lengthAdjust="spacingAndGlyphs" >Lifelong Cyrene (1%)</text>
<text x="497.4" y="324.9" font-size="12.6" font-weight="normal" fill="#222" text-anchor="start" textLength="152.8" lengthAdjust="spacingAndGlyphs" >Transient Cyrene (1%) [YA</text>
<text x="663.4" y="324.9" font-size="12.6" font-weight="normal" fill="#222" text-anchor="start" textLength="19.2" lengthAdjust="spacingAndGlyphs" >D3]</text>
<path d="M651.2 320.9 H661.6 M658.6 319.0 L662.0 320.9 L658.6 322.8" fill="none" stroke="#222" stroke-width="0.9"/>
</svg>
</body></html>
